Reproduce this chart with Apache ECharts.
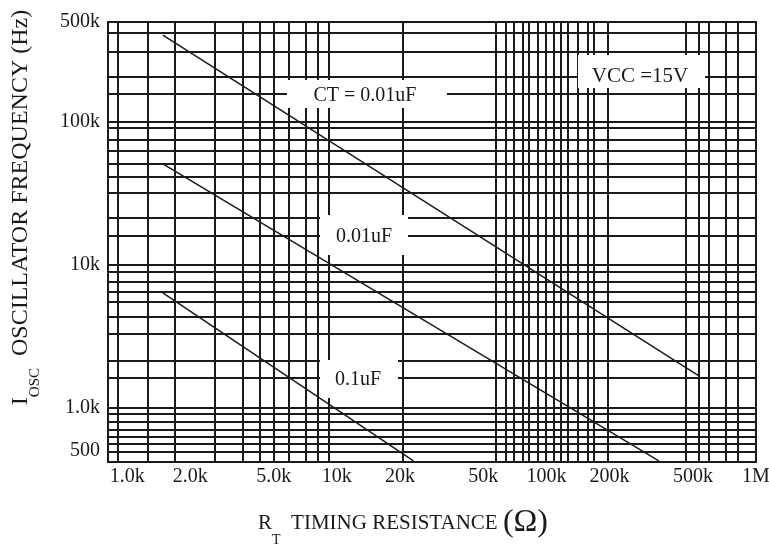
<!DOCTYPE html>
<html><head><meta charset="utf-8">
<script src="https://cdn.jsdelivr.net/npm/echarts@6/dist/echarts.min.js"></script>
<style>html,body{margin:0;padding:0;background:#fff}#c{width:769px;height:547px}</style>
</head><body><div id="c"></div>
<script>
// Tick labels
const xTickValues = [1000, 2000, 5000, 10000, 20000, 50000, 100000, 200000, 500000, 1000000];
const xTickLabels = ['1.0k', '2.0k', '5.0k', '10k', '20k', '50k', '100k', '200k', '500k', '1M'];
const yTickValues = [500, 1000, 10000, 100000, 500000];
const yTickLabels = ['500', '1.0k', '10k', '100k', '500k'];
// Grid line positions (data units), as printed on the chart paper
const xGridValues = [904, 1260, 1690, 2630, 3540, 4310, 4980, 5870, 7080, 8080, 9120, 20600,
  57200, 63900, 69800, 77000, 82300, 90900, 99200, 108000, 117000, 126000, 141000, 158000, 168000, 196000,
  463000, 534000, 596000, 719000, 820000];
const yGridValues = [419000, 308000, 206000, 157000, 100000, 90800, 74900, 62700, 50900, 41300, 31900,
  21300, 16000, 10000, 8940, 7610, 6480, 5520, 4340, 3300, 2130, 1620, 1000, 910, 800, 703, 628, 561, 493];
// Series: R_T (ohm) and oscillator frequency (Hz)
const ctTopR = [1480, 534000];
const ctTopF = [405000, 1680];
const ctMidR = [1480, 344000];
const ctMidF = [50900, 427];
const ctLowR = [1480, 23200];
const ctLowF = [6380, 427];

const FONT = 'Liberation Serif';
const INK = '#1a1a1a';
function labelFor(values, labels) {
  return function (v) {
    for (let i = 0; i < values.length; i++) {
      if (Math.abs(values[i] - v) <= values[i] * 1e-6) return labels[i];
    }
    return '';
  };
}
function pairs(xs, ys) { return xs.map((x, i) => [x, ys[i]]); }
function lineSeries(name, xs, ys) {
  return { name: name, type: 'line', data: pairs(xs, ys), symbol: 'none', silent: true,
    lineStyle: { color: INK, width: 1.5 }, z: 5 };
}
function note(text, cx, cy, bx, by, bw, bh, size) {
  return { type: 'group', z: 100, children: [
    { type: 'rect', shape: { x: bx, y: by, width: bw, height: bh }, style: { fill: '#fff' }, z: 100 },
    { type: 'text', x: cx, y: cy, z: 101, style: { text: text, fill: INK, font: size + 'px "' + FONT + '"', align: 'center', verticalAlign: 'middle' } }
  ] };
}

const chart = echarts.init(document.getElementById('c'), null, { renderer: 'canvas' });
const option = {
  animation: false,
  backgroundColor: '#fff',
  grid: { left: 108, right: 13, top: 22, bottom: 85, outerBoundsMode: 'none', containLabel: false,
    show: true, borderColor: INK, borderWidth: 2, backgroundColor: 'transparent' },
  xAxis: {
    type: 'log', logBase: 10, min: 810, max: 1000000,
    axisLine: { show: true, lineStyle: { color: INK, width: 2 } },
    axisTick: { show: false, customValues: xGridValues },
    splitLine: { show: true, lineStyle: { color: INK, width: 2 } },
    minorTick: { show: false }, minorSplitLine: { show: false },
    axisLabel: { customValues: xTickValues, formatter: labelFor(xTickValues, xTickLabels),
      fontFamily: FONT, fontSize: 20, color: INK, margin: 5 },
    name: '{m|R}{s|T}{m|  TIMING RESISTANCE }{p|(}{o|Ω}{p|)}',
    nameLocation: 'middle', nameGap: 37,
    nameTextStyle: { padding: [0, 58, 0, 0], rich: {
      m: { fontFamily: FONT, fontSize: 21, lineHeight: 48, color: INK, verticalAlign: 'middle' },
      s: { fontFamily: FONT, fontSize: 14, lineHeight: 14, color: INK, verticalAlign: 'bottom' },
      p: { fontFamily: FONT, fontSize: 32, lineHeight: 48, color: INK, verticalAlign: 'middle' },
      o: { fontFamily: FONT, fontSize: 32, lineHeight: 48, color: INK, verticalAlign: 'middle' }
    } }
  },
  yAxis: {
    type: 'log', logBase: 10, min: 420, max: 500000,
    axisLine: { show: true, lineStyle: { color: INK, width: 2 } },
    axisTick: { show: false, customValues: yGridValues },
    splitLine: { show: true, lineStyle: { color: INK, width: 2 } },
    minorTick: { show: false }, minorSplitLine: { show: false },
    axisLabel: { customValues: yTickValues, formatter: labelFor(yTickValues, yTickLabels),
      fontFamily: FONT, fontSize: 20, color: INK, margin: 8 },
    name: '{m|I}{s|OSC}{m|  OSCILLATOR FREQUENCY (Hz)}',
    nameLocation: 'middle', nameGap: 65, nameRotate: 90,
    nameTextStyle: { padding: [0, 0, 0, 69], rich: {
      m: { fontFamily: FONT, fontSize: 24, lineHeight: 44, color: INK, verticalAlign: 'middle' },
      s: { fontFamily: FONT, fontSize: 15, lineHeight: 15, color: INK, verticalAlign: 'bottom' }
    } }
  },
  series: [
    lineSeries('CT = 0.01uF', ctTopR, ctTopF),
    lineSeries('0.01uF', ctMidR, ctMidF),
    lineSeries('0.1uF', ctLowR, ctLowF)
  ],
  graphic: [
    note('CT = 0.01uF', 365, 96, 287, 80, 160, 28, 20),
    note('VCC =15V', 640, 76, 578, 55, 127, 33, 21),
    note('0.01uF', 364, 237, 320, 215, 88, 40, 20),
    note('0.1uF', 358, 380, 320, 360, 78, 38, 20)
  ]
};
chart.setOption(option);
</script>
</body></html>
